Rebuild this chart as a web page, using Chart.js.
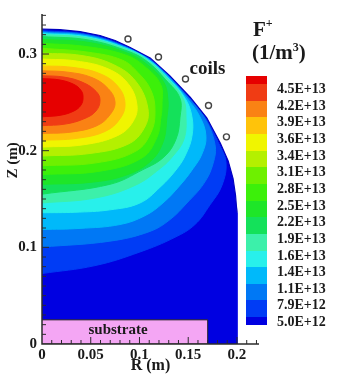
<!DOCTYPE html>
<html>
<head>
<meta charset="utf-8">
<script src="https://cdn.jsdelivr.net/npm/chart.js@4.4.1/dist/chart.umd.min.js"></script>
<style>
  html, body { margin: 0; padding: 0; background: #fff; }
  #wrap { position: relative; width: 344px; height: 384px; overflow: hidden;
          font-family: "Liberation Serif", serif; font-weight: bold; color: #1a1a1a; }
  #chart { position: absolute; left: 0; top: 0; }
  .lbl { position: absolute; left: 277px; font-size: 14px; line-height: 16px; white-space: nowrap; }
  .sw { position: absolute; left: 246px; width: 21px; }
  .sup { font-size: 12px; position: relative; }
  #ftitle { position: absolute; left: 253px; top: 19px; font-size: 21px; line-height: 21px; }
  #funit { position: absolute; left: 252px; top: 42px; font-size: 21px; line-height: 21px; }
</style>
</head>
<body>
<div id="wrap">
  <canvas id="chart" width="344" height="384"></canvas>
  <div id="ftitle">F<span class="sup" style="top:-9px">+</span></div>
  <div id="funit">(1/m<span class="sup" style="top:-8px">3</span>)</div>
  <div id="bar"></div>
</div>
<script>
"use strict";
// contour levels (low -> high) and the colour of each band, band 0 is below the first level
const levelLabels = ["5.0E+12", "7.9E+12", "1.1E+13", "1.4E+13", "1.6E+13", "1.9E+13", "2.2E+13", "2.5E+13",
  "2.8E+13", "3.1E+13", "3.4E+13", "3.6E+13", "3.9E+13", "4.2E+13", "4.5E+13"];
const bandColors = ["#0000e1", "#003cf5", "#0078f5", "#00b9fa", "#28f0eb", "#3cf0aa", "#14e15a", "#1ee628",
  "#3cf00a", "#6ef000", "#b4f000", "#f0f500", "#ffc30a", "#fa8214", "#f03c14", "#e60000"];

const xTicks = [0, 0.05, 0.1, 0.15, 0.2];
const yTicks = [0, 0.1, 0.2, 0.3];
const xMax = 0.2226;
const yMax = 0.3414;

// chamber wall (R, Z) in m
const dome = [[0, 0.3257], [0.0185, 0.3252], [0.039, 0.3232], [0.0595, 0.3192], [0.075, 0.314], [0.09, 0.307],
  [0.111, 0.296], [0.131, 0.2776], [0.152, 0.2553], [0.169, 0.234], [0.183, 0.2077], [0.191, 0.1895],
  [0.196, 0.1712], [0.1985, 0.154], [0.2, 0.136]];
const domainBottom = [[0.2, 0], [0, 0]];
const substrate = [[0, 0], [0.17, 0], [0.17, 0.025], [0, 0.025]];
const coils = [[0.0882, 0.3156], [0.1195, 0.2969], [0.1472, 0.2741], [0.1708, 0.2467], [0.1892, 0.2143]];

// iso-lines of F+, one per level
const c050 = [[0, 0.3242], [0.0472, 0.3204], [0.0899, 0.3065], [0.1104, 0.2954], [0.1308, 0.2772], [0.1513, 0.2548],
  [0.1677, 0.2351], [0.181, 0.2082], [0.1887, 0.1885], [0.1846, 0.1641], [0.1723, 0.1439], [0.1569, 0.1236],
  [0.1364, 0.1104], [0.1005, 0.0952], [0.0544, 0.0811], [0, 0.0729]];
const c079 = [[0, 0.3232], [0.0472, 0.3196], [0.0896, 0.3059], [0.11, 0.2948], [0.1303, 0.2767], [0.1503, 0.2548],
  [0.1661, 0.2351], [0.1774, 0.2067], [0.1754, 0.1864], [0.1661, 0.1662], [0.1487, 0.1459], [0.1313, 0.1287],
  [0.1108, 0.1165], [0.0697, 0.1064], [0, 0.1003]];
const c110 = [[0, 0.3222], [0.0472, 0.3187], [0.0894, 0.3054], [0.1096, 0.2943], [0.1298, 0.2762], [0.1487, 0.2543],
  [0.162, 0.2351], [0.1682, 0.2148], [0.1641, 0.1966], [0.1549, 0.1814], [0.1415, 0.1641], [0.1241, 0.1459],
  [0.1056, 0.1327], [0.08, 0.1236], [0.039, 0.1196], [0, 0.1185]];
const c140 = [[0, 0.3212], [0.0472, 0.3176], [0.089, 0.3048], [0.1092, 0.2938], [0.1291, 0.2755], [0.1467, 0.2543],
  [0.1538, 0.2351], [0.1538, 0.2148], [0.1477, 0.1966], [0.1385, 0.1814], [0.121, 0.1621], [0.1005, 0.1459],
  [0.0697, 0.1388], [0.0338, 0.1363], [0, 0.1358]];
const c160 = [[0, 0.3202], [0.0472, 0.3166], [0.0887, 0.3042], [0.1088, 0.2932], [0.1284, 0.2748], [0.1446, 0.2543],
  [0.1477, 0.2351], [0.1456, 0.2118], [0.1344, 0.1945], [0.121, 0.1814], [0.0954, 0.1641], [0.0544, 0.151],
  [0, 0.1459]];
const c190 = [[0, 0.3181], [0.0472, 0.3146], [0.0881, 0.3029], [0.108, 0.2922], [0.1269, 0.2733], [0.1415, 0.2543],
  [0.1415, 0.234], [0.1374, 0.2118], [0.1251, 0.1935], [0.1036, 0.1804], [0.0697, 0.1652], [0, 0.155]];
const c220 = [[0, 0.3151], [0.0472, 0.3121], [0.0872, 0.3011], [0.1066, 0.2901], [0.1247, 0.2711], [0.1292, 0.2523],
  [0.1282, 0.2351], [0.1241, 0.2087], [0.1108, 0.1885], [0.0851, 0.1743], [0.0492, 0.1672], [0, 0.1652]];
const c250 = [[0, 0.3111], [0.0472, 0.3075], [0.086, 0.2989], [0.1047, 0.2877], [0.1218, 0.2683], [0.1231, 0.2472],
  [0.1221, 0.2351], [0.1179, 0.2138], [0.1026, 0.1925], [0.0595, 0.1788], [0, 0.1753]];
const c280 = [[0, 0.306], [0.0472, 0.3019], [0.0821, 0.2938], [0.0985, 0.2807], [0.1118, 0.2624], [0.1159, 0.2411],
  [0.1118, 0.2189], [0.0964, 0.1996], [0.0554, 0.1874], [0, 0.1844]];
const c310 = [[0, 0.3009], [0.041, 0.2984], [0.0738, 0.2888], [0.0964, 0.2715], [0.1087, 0.2432], [0.1046, 0.2229],
  [0.0882, 0.2067], [0.0492, 0.1971], [0, 0.1945]];
const c340 = [[0, 0.2948], [0.0349, 0.2928], [0.0677, 0.2847], [0.0882, 0.2695], [0.0974, 0.2472], [0.0933, 0.23],
  [0.0779, 0.2158], [0.0431, 0.2062], [0, 0.2037]];
const c360 = [[0, 0.2877], [0.0308, 0.2862], [0.0595, 0.2796], [0.0779, 0.2665], [0.0851, 0.2492], [0.08, 0.233],
  [0.0646, 0.2199], [0.0359, 0.2128], [0, 0.2107]];
const c390 = [[0, 0.2827], [0.0267, 0.2812], [0.0513, 0.2756], [0.0677, 0.2644], [0.0749, 0.2503], [0.0697, 0.2371],
  [0.0564, 0.2259], [0.0308, 0.2194], [0, 0.2178]];
const c420 = [[0, 0.2776], [0.0226, 0.2761], [0.0421, 0.2705], [0.0554, 0.2614], [0.0595, 0.2523], [0.0554, 0.2411],
  [0.0431, 0.233], [0.0236, 0.2275], [0, 0.2259]];
const c450 = [[0, 0.2746], [0.0185, 0.2731], [0.0328, 0.2685], [0.04, 0.2624], [0.0421, 0.2553], [0.04, 0.2472],
  [0.0328, 0.2411], [0.0185, 0.2366], [0, 0.2351]];
const contours = [c050, c079, c110, c140, c160, c190, c220, c250, c280, c310, c340, c360, c390, c420, c450];

const serif = '"Liberation Serif", "Times New Roman", serif';
const ink = "#1a1a1a";

function toPoints(arr) {
    return arr.map(p => ({ x: p[0], y: p[1] }));
}

// colour bar, highest band on top
const bar = document.getElementById("bar");
const barTop = 76;
const edge = 8;
const step = 16.65;
for (let i = 0; i < bandColors.length; i++) {
    const band = bandColors.length - 1 - i;
    const top = i === 0 ? barTop : barTop + edge + (i - 1) * step;
    const h = (i === 0 || i === bandColors.length - 1) ? edge : step;
    const sw = document.createElement("div");
    sw.className = "sw";
    sw.style.top = Math.round(top) + "px";
    sw.style.height = (Math.round(top + h) - Math.round(top)) + "px";
    sw.style.background = bandColors[band];
    bar.appendChild(sw);
}
for (let i = 0; i < levelLabels.length; i++) {
    const lab = document.createElement("div");
    lab.className = "lbl";
    lab.textContent = levelLabels[levelLabels.length - 1 - i];
    lab.style.top = (barTop + edge + i * step + 5 - 8) + "px";
    bar.appendChild(lab);
}

const layers = [];
layers.push({
    data: toPoints(dome.concat(domainBottom)),
    backgroundColor: bandColors[0], borderColor: bandColors[0], borderWidth: 1,
    fill: "shape", tension: 0, pointRadius: 0
});
contours.forEach((c, i) => {
    layers.push({
        data: toPoints(c),
        backgroundColor: bandColors[i + 1], borderColor: bandColors[i + 1], borderWidth: 1,
        fill: "shape", tension: 0.4, pointRadius: 0
    });
});
// wall line; the area outside of it stays white
layers.push({
    data: toPoints(dome),
    backgroundColor: "#ffffff", borderColor: "#0000c0", borderWidth: 1.2,
    fill: "end", tension: 0, pointRadius: 0
});
layers.push({
    data: toPoints(substrate),
    backgroundColor: "#f4a6f4", borderColor: "#222222", borderWidth: 1,
    fill: "shape", tension: 0, pointRadius: 0
});
layers.push({
    data: toPoints(coils),
    showLine: false, fill: false,
    pointRadius: 3, pointBackgroundColor: "#ffffff", pointBorderColor: "#444444", pointBorderWidth: 1.4
});
layers.forEach((d, i) => { d.order = layers.length - i; });

const frame = {
    id: "frame",
    afterDatasetsDraw(chart) {
        const { ctx, chartArea: a, scales: { x, y } } = chart;
        ctx.save();
        ctx.strokeStyle = "#2b2b2b";
        ctx.lineWidth = 1.5;
        ctx.beginPath();
        ctx.moveTo(a.left, a.top);
        ctx.lineTo(a.left, a.bottom);
        ctx.lineTo(a.right, a.bottom);
        ctx.stroke();
        ctx.lineWidth = 1;
        ctx.beginPath();
        for (let i = 1; i <= 22; i++) {
            const px = x.getPixelForValue(i / 100);
            const len = i % 5 === 0 ? 7 : 4;
            ctx.moveTo(px, a.bottom);
            ctx.lineTo(px, a.bottom - len);
        }
        for (let i = 1; i <= 34; i++) {
            const py = y.getPixelForValue(i / 100);
            const len = i % 10 === 0 ? 7 : 4;
            ctx.moveTo(a.left, py);
            ctx.lineTo(a.left + len, py);
        }
        ctx.stroke();

        ctx.fillStyle = ink;
        ctx.textAlign = "center";
        ctx.textBaseline = "alphabetic";
        ctx.font = "bold 15px " + serif;
        ctx.fillText("substrate", x.getPixelForValue(0.078), y.getPixelForValue(0.0106));
        ctx.font = "bold 19px " + serif;
        ctx.fillText("coils", x.getPixelForValue(0.1697), y.getPixelForValue(0.2796));

        // axis titles
        ctx.font = "bold 16px " + serif;
        ctx.textBaseline = "middle";
        ctx.fillText("R (m)", (a.left + a.right) / 2, a.bottom + 22);
        ctx.translate(13, y.getPixelForValue(0.19));
        ctx.rotate(-Math.PI / 2);
        ctx.font = "bold 15px " + serif;
        ctx.fillText("Z (m)", 0, 0);
        ctx.restore();
    }
};

const tickFont = { family: serif, size: 15, weight: "bold" };
new Chart(document.getElementById("chart"), {
    type: "line",
    data: { datasets: layers },
    options: {
        responsive: false,
        animation: false,
        events: [],
        devicePixelRatio: 1,
        layout: { padding: { top: 7, right: 85, left: 0, bottom: 0 } },
        plugins: { legend: { display: false }, tooltip: { enabled: false } },
        scales: {
            x: {
                type: "linear", min: 0, max: xMax,
                afterBuildTicks: (s) => { s.ticks = xTicks.map(v => ({ value: v })); },
                afterFit: (s) => { s.height = 40; },
                grid: { display: false, drawTicks: false },
                border: { display: false },
                ticks: { padding: 2, font: tickFont, color: ink, maxRotation: 0, callback: v => String(v) }
            },
            y: {
                type: "linear", min: 0, max: yMax,
                afterBuildTicks: (s) => { s.ticks = yTicks.map(v => ({ value: v })); },
                afterFit: (s) => { s.width = 42; },
                grid: { display: false, drawTicks: false },
                border: { display: false },
                ticks: { padding: 5, font: tickFont, color: ink, callback: v => String(v) }
            }
        }
    },
    plugins: [frame]
});
</script>
</body>
</html>
